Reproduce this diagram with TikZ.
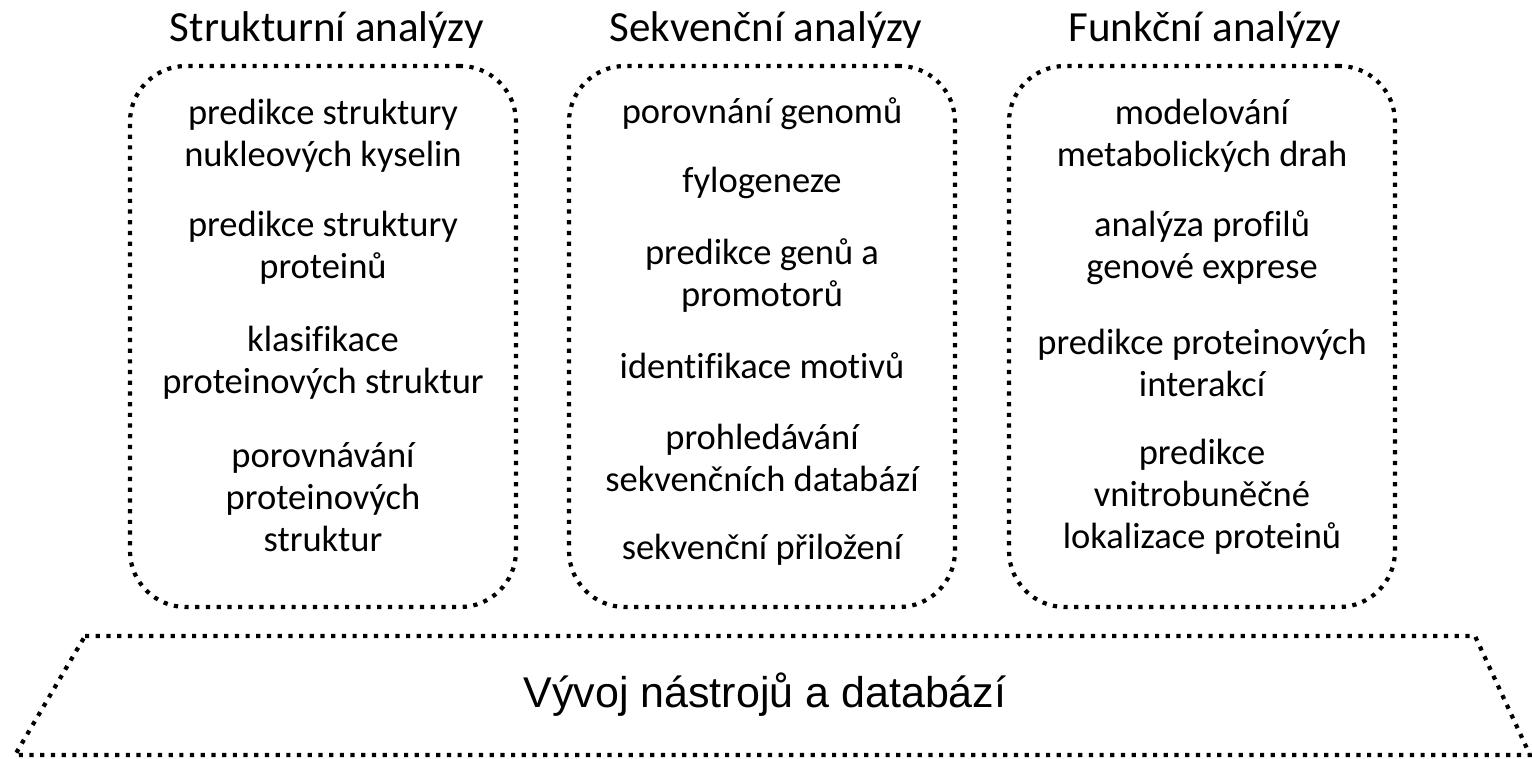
\documentclass[tikz,border=0pt]{standalone}
\usepackage{fontspec}
\setmainfont[Ligatures=NoCommon]{Carlito}
\newfontfamily\arialf{Liberation Sans}
\tikzset{
  dotline/.style={line width=4.2pt, dash pattern=on 4.2pt off 6.5pt, draw=black},
  grp/.style={font=\fontsize{36.5}{42}\selectfont, align=center, inner sep=0pt},
  hdr/.style={font=\fontsize{43}{46}\selectfont, inner sep=0pt},
  box/.style={dotline, rounded corners=56pt, minimum width=386pt, minimum height=541pt, inner sep=0pt}
}
\begin{document}
\begin{tikzpicture}[x=1pt,y=-1pt]
\useasboundingbox (0,0) rectangle (1532,758);
% headers
\node[hdr] (h1) at (327,30) {Strukturní analýzy};
\node[hdr] (h2) at (766,30) {Sekvenční analýzy};
\node[hdr] (h3) at (1205,30) {Funkční analýzy};
% boxes
\node[box] (b1) at (323,336.5) {};
\node[box] (b2) at (762,336.5) {};
\node[box] (b3) at (1202,336.5) {};
% box 1
\node[grp] (s1) at (323,136) {predikce struktury\\nukleových kyselin};
\node[grp] (s2) at (323,248) {predikce struktury\\proteinů};
\node[grp] (s3) at (323,363) {klasifikace\\proteinových struktur};
\node[grp] (s4) at (323,497) {porovnávání\\proteinových\\struktur};
% box 2
\node[grp] (q1) at (762,114) {porovnání genomů};
\node[grp] (q2) at (762,183) {fylogeneze};
\node[grp] (q3) at (762,276) {predikce genů a\\promotorů};
\node[grp] (q4) at (762,366) {identifikace motivů};
\node[grp] (q5) at (762,458) {prohledávání\\sekvenčních databází};
\node[grp] (q6) at (762,550) {sekvenční přiložení};
% box 3
\node[grp] (f1) at (1202,136) {modelování\\metabolických drah};
\node[grp] (f2) at (1202,248) {analýza profilů\\genové exprese};
\node[grp] (f3) at (1202,363) {predikce proteinových\\interakcí};
\node[grp] (f4) at (1202,497) {predikce\\vnitrobuněčné\\lokalizace proteinů};
% bottom trapezoid
\coordinate (t1) at (85,636);
\coordinate (t2) at (1475,636);
\coordinate (t3) at (1530,755);
\coordinate (t4) at (15,755);
\draw[dotline] (t1) -- (t2) -- (t3) -- (t4) -- cycle;
\node[font=\arialf\fontsize{43}{48}\selectfont, inner sep=0pt] (dev) at (765,695) {Vývoj nástrojů a databází};
\end{tikzpicture}
\end{document}
